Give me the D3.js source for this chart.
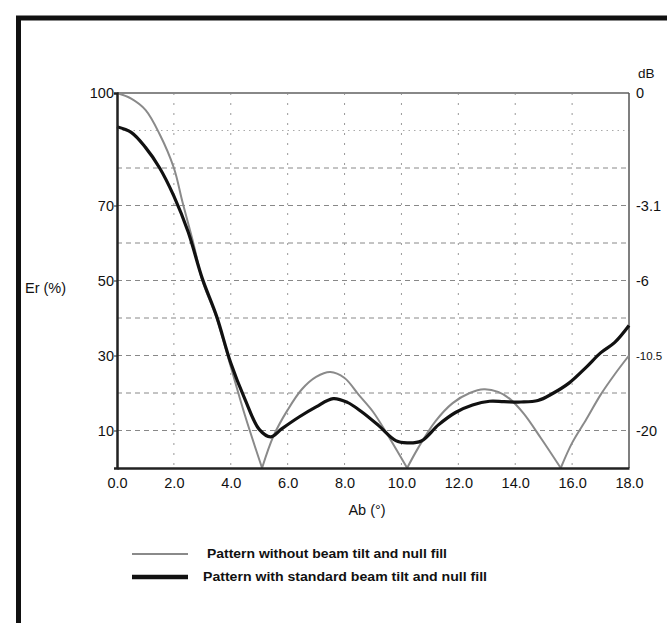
<!DOCTYPE html>
<html><head><meta charset="utf-8">
<script src="https://cdn.jsdelivr.net/npm/d3@7"></script>
<style>
html,body{margin:0;padding:0;background:#fff;}
text{font-family:"Liberation Sans",Arial,sans-serif;fill:#111;}
</style></head>
<body><svg id="c" width="667" height="623"></svg>
<script>
// angle (deg) vs relative field strength Er (%)
const grayAngles = [0,0.5,1.0,1.5,2.0,2.3,2.7,3.0,3.5,4.0,4.5,5.1,5.5,6.0,6.5,7.0,7.5,8.0,8.5,9.0,9.5,10.2,10.6,11.2,11.8,12.4,12.9,13.4,13.8,14.3,14.9,15.6,16.0,16.5,17.0,17.5,18.0];
const grayValues = [100,98.5,95.5,89,80,71,59.5,50,40,27,14,0,8.5,15.5,21,24.3,25.6,24,19.5,15,9,0,5.5,12.5,17.3,20,21,20.3,18.5,14.5,8,0,6.7,13,19.5,25,30];
const blackAngles = [0,0.5,1.0,1.5,2.0,2.5,3.0,3.5,4.0,4.5,5.0,5.4,5.8,6.4,7.0,7.6,8.1,8.6,9.2,9.8,10.2,10.7,11.3,11.9,12.5,13.1,13.6,14.2,14.8,15.3,15.9,16.5,17.0,17.5,18.0];
const blackValues = [91,89.5,85.5,80,72.5,63,50.5,40.5,28,18.3,10.3,8.3,10.5,13.6,16.3,18.5,17.5,15,11.3,7.3,6.7,7.2,11.5,14.8,16.8,17.8,17.7,17.6,18,19.8,22.7,26.9,30.7,33.5,38];
const xTicks = [0,2,4,6,8,10,12,14,16,18];
const yTicks = [100,70,50,30,10];
const dbTicks = ["0","-3.1","-6","-10.5","-20"];
const legendLabels = ["Pattern without beam tilt and null fill","Pattern with standard beam tilt and null fill"];

const svg = d3.select("#c");
const L=117, R=629, T=93, B=468;
const x = d3.scaleLinear().domain([0,18]).range([L,R]);
const y = d3.scaleLinear().domain([0,100]).range([B,T]);

// outer frame
svg.append("rect").attr("x",18.5).attr("y",18).attr("width",720).attr("height",720)
  .attr("fill","none").attr("stroke","#111").attr("stroke-width",5);

// horizontal grid
d3.range(10,100,10).forEach(v=>{
  svg.append("line").attr("x1",L).attr("x2",R).attr("y1",y(v)).attr("y2",y(v))
    .attr("stroke", v===90 ? "#aaa" : "#888").attr("stroke-width",1)
    .attr("stroke-dasharray", v===90 ? "1.5,4" : "5,4");
});
// vertical grid
xTicks.slice(1,-1).forEach(v=>{
  svg.append("line").attr("x1",x(v)).attr("x2",x(v)).attr("y1",T).attr("y2",B)
    .attr("stroke","#999").attr("stroke-width",1).attr("stroke-dasharray","2,8");
});
// top line (100) solid gray
svg.append("line").attr("x1",L).attr("x2",R).attr("y1",y(100)).attr("y2",y(100))
  .attr("stroke","#888").attr("stroke-width",2);
// right axis
svg.append("line").attr("x1",R).attr("x2",R).attr("y1",T).attr("y2",B)
  .attr("stroke","#555").attr("stroke-width",1.5);

// curves
const line = d3.line().x(d=>x(d[0])).y(d=>y(d[1])).curve(d3.curveCatmullRom.alpha(0.5));
// gray: smooth lobes, sharp nulls -> split into lobes at zero values
const grayPts = grayAngles.map((a,i)=>[a,grayValues[i]]);
const lobes = [];
let cur = [];
grayPts.forEach(p=>{
  cur.push(p);
  if (p[1]===0) { lobes.push(cur); cur=[p]; }
});
if (cur.length>1) lobes.push(cur);
svg.append("g").selectAll("path").data(lobes).join("path")
  .attr("d",line).attr("fill","none").attr("stroke","#8a8a8a").attr("stroke-width",2).attr("stroke-linejoin","round");
svg.append("path").datum(blackAngles.map((a,i)=>[a,blackValues[i]]))
  .attr("d",line).attr("fill","none").attr("stroke","#111").attr("stroke-width",3.2).attr("stroke-linejoin","round");

// left & bottom axes
const gl = svg.append("g").attr("transform",`translate(${L},0)`)
  .call(d3.axisLeft(y).tickValues(yTicks).tickSize(3).tickPadding(0).tickFormat(d3.format("d")));
const gb = svg.append("g").attr("transform",`translate(0,${B})`)
  .call(d3.axisBottom(x).tickValues(xTicks).tickSize(0).tickPadding(10).tickFormat(d3.format(".1f")));
[gl,gb].forEach(g=>{
  g.select(".domain").attr("stroke","#222").attr("stroke-width",2.5);
  g.selectAll(".tick line").attr("stroke","#222");
  g.selectAll("text").attr("font-size",14.5).attr("font-family","Liberation Sans, Arial, sans-serif").attr("fill","#111");
});

// right dB labels
const gr = svg.append("g");
yTicks.forEach((v,i)=>{
  gr.append("text").attr("x",R+7).attr("y",y(v)).attr("dy","0.35em")
    .attr("font-size",dbTicks[i].length>4 ? 11.5 : 14.5).text(dbTicks[i]);
});
svg.append("text").attr("x",R+9).attr("y",78).attr("font-size",13.5).text("dB");

// axis titles
svg.append("text").attr("x",25).attr("y",y(48)).attr("dy","0.35em").attr("font-size",14.5).text("Er (%)");
svg.append("text").attr("x",367).attr("y",515).attr("text-anchor","middle").attr("font-size",14.5).text("Ab (°)");

// legend
const leg = [{c:"#8a8a8a",w:2,y:554,tx:207,tw:240},{c:"#111",w:4.5,y:577,tx:203,tw:284}];
leg.forEach((d,i)=>{
  svg.append("line").attr("x1",132).attr("x2",188).attr("y1",d.y).attr("y2",d.y)
    .attr("stroke",d.c).attr("stroke-width",d.w);
  svg.append("text").attr("x",d.tx).attr("y",d.y).attr("dy","0.35em")
    .attr("font-size",12).attr("font-weight","bold")
    .attr("textLength",d.tw).attr("lengthAdjust","spacingAndGlyphs").text(legendLabels[i]);
});
</script></body></html>
